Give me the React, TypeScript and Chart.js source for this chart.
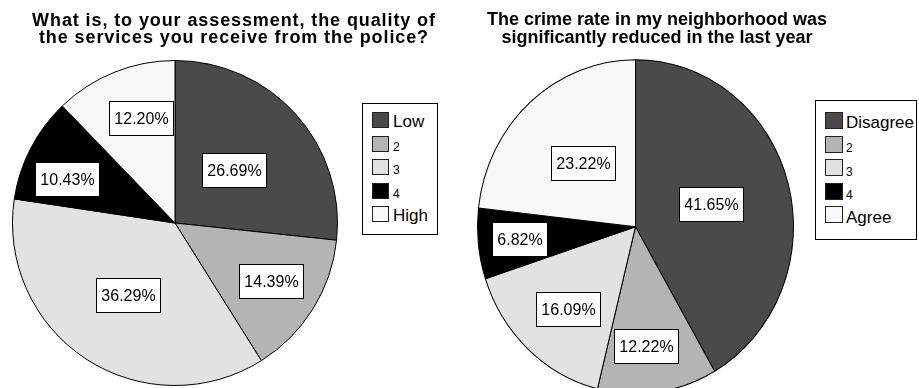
import React, { useEffect, useRef } from 'react';
import { Chart, registerables } from 'chart.js';

Chart.register(...registerables);

// ---- data ----
const leftTitle = ['What is, to your assessment, the quality of', 'the services you receive from the police?'];
const leftCategories = ['Low', '2', '3', '4', 'High'];
const leftValues = [26.69, 14.39, 36.29, 10.43, 12.2];

const rightTitle = ['The crime rate in my neighborhood was', 'significantly reduced in the last year'];
const rightCategories = ['Disagree', '2', '3', '4', 'Agree'];
const rightValues = [41.65, 12.22, 16.09, 6.82, 23.22];

// ---- styles ----
const sliceColors = ['#4a4a4a', '#b4b4b4', '#e2e2e2', '#000000', '#f8f8f8'];
const leftLabelPlacement = { radius: [0.49, 0.69, 0.53, 0.72, 0.68], angleShift: [0, -1, 0, -5, 4] };
const rightLabelPlacement = { radius: [0.5, 0.72, 0.65, 0.74, 0.51], angleShift: [-1, 3, -2, 0, 0.7] };
const FONT = '"Liberation Sans", Arial, sans-serif';

function makePiePlugin(placement: { radius: number[]; angleShift: number[] }, stretchY: number) {
  return {
    id: 'boxLabels',
    beforeDatasetsDraw(chart: any) {
      const ctx = chart.ctx as CanvasRenderingContext2D;
      const arc = chart.getDatasetMeta(0).data[0] as any;
      const cy = arc ? arc.y : 0;
      ctx.save();
      ctx.translate(0, cy);
      ctx.scale(1, stretchY);
      ctx.translate(0, -cy);
    },
    afterDatasetsDraw(chart: any) {
      const ctx = chart.ctx as CanvasRenderingContext2D;
      ctx.restore();
      const meta = chart.getDatasetMeta(0);
      const values = chart.data.datasets[0].data as number[];
      ctx.save();
      ctx.font = `16px ${FONT}`;
      ctx.textAlign = 'center';
      ctx.textBaseline = 'middle';
      meta.data.forEach((arc: any, i: number) => {
        const p = arc.getProps(['x', 'y', 'startAngle', 'endAngle', 'outerRadius'], true);
        const mid = (p.startAngle + p.endAngle) / 2 + ((placement.angleShift[i] || 0) * Math.PI) / 180;
        const r = p.outerRadius * placement.radius[i];
        const cx = p.x + Math.cos(mid) * r;
        const cy = p.y + Math.sin(mid) * r * stretchY;
        const text = values[i].toFixed(2) + '%';
        const w = Math.round(ctx.measureText(text).width + 10);
        const h = 34;
        const bx = Math.round(cx - w / 2) + 0.5;
        const by = Math.round(cy - h / 2) + 0.5;
        ctx.fillStyle = '#ffffff';
        ctx.fillRect(bx, by, w, h);
        ctx.strokeStyle = '#000000';
        ctx.lineWidth = 1;
        ctx.strokeRect(bx, by, w, h);
        ctx.fillStyle = '#000000';
        ctx.fillText(text, bx + w / 2, by + h / 2 + 1);
      });
      ctx.restore();
    },
  };
}

function PieCanvas(props: {
  labels: string[];
  values: number[];
  width: number;
  height: number;
  padding: { left: number; top: number; right: number; bottom: number };
  placement: { radius: number[]; angleShift: number[] };
  stretchY: number;
}) {
  const ref = useRef<HTMLCanvasElement>(null);
  useEffect(() => {
    if (!ref.current) return;
    const chart = new Chart(ref.current, {
      type: 'pie',
      data: {
        labels: props.labels,
        datasets: [
          {
            data: props.values,
            backgroundColor: sliceColors,
            borderColor: '#000000',
            borderWidth: 1,
            clip: false,
          },
        ],
      },
      options: {
        responsive: false,
        animation: false,
        events: [],
        layout: { padding: props.padding },
        plugins: {
          legend: { display: false },
          tooltip: { enabled: false },
          title: { display: false },
        },
      },
      plugins: [makePiePlugin(props.placement, props.stretchY)],
    } as any);
    return () => chart.destroy();
  }, []);
  return <canvas ref={ref} width={props.width} height={props.height} style={{ display: 'block' }} />;
}

function Title(props: { lines: string[]; center: number; top: number; spacing: number }) {
  return (
    <div
      style={{
        position: 'absolute',
        left: props.center - 230,
        top: props.top,
        width: 460,
        textAlign: 'center',
        fontFamily: FONT,
        fontWeight: 'bold',
        fontSize: 18,
        lineHeight: '17.5px',
        letterSpacing: props.spacing,
        color: '#000',
        whiteSpace: 'nowrap',
      }}
    >
      {props.lines.map((l, i) => (
        <div key={i}>{l}</div>
      ))}
    </div>
  );
}

function Legend(props: {
  categories: string[];
  left: number;
  top: number;
  width: number;
  height: number;
  swatchX: number;
  firstTop: number;
  step: number;
  swW: number;
  swH: number;
  textX: number;
}) {
  return (
    <div
      style={{
        position: 'absolute',
        left: props.left,
        top: props.top,
        width: props.width - 2,
        height: props.height - 2,
        border: '1px solid #000',
        background: '#fff',
      }}
    >
      {props.categories.map((c, i) => {
        const t = props.firstTop + i * props.step;
        const numeric = /^\d+$/.test(c);
        const fs = numeric ? 12 : 17;
        const baseline = t + props.swH - 0.5;
        return (
          <React.Fragment key={i}>
            <div
              style={{
                position: 'absolute',
                left: props.swatchX,
                top: t,
                width: props.swW - 2,
                height: props.swH - 2,
                border: '1px solid #222',
                background: sliceColors[i],
              }}
            />
            <div
              style={{
                position: 'absolute',
                left: props.textX,
                top: baseline - 0.8465 * fs,
                fontFamily: FONT,
                fontSize: fs,
                lineHeight: `${fs}px`,
                color: '#000',
                whiteSpace: 'nowrap',
              }}
            >
              {c}
            </div>
          </React.Fragment>
        );
      })}
    </div>
  );
}

export default function App() {
  return (
    <div
      style={{
        position: 'fixed',
        left: 0,
        top: 0,
        width: 919,
        height: 388,
        overflow: 'hidden',
        background: '#fff',
      }}
    >
      <div style={{ position: 'absolute', left: 0, top: 0 }}>
        <PieCanvas
          labels={leftCategories}
          values={leftValues}
          width={460}
          height={388}
          padding={{ left: 12, top: 60, right: 122, bottom: 2 }}
          placement={leftLabelPlacement}
          stretchY={1}
        />
      </div>
      <div style={{ position: 'absolute', left: 460, top: 0 }}>
        <PieCanvas
          labels={rightCategories}
          values={rightValues}
          width={459}
          height={388}
          padding={{ left: 17, top: 68.2, right: 125, bottom: 2.8 }}
          placement={rightLabelPlacement}
          stretchY={1.057}
        />
      </div>
      <Title lines={leftTitle} center={234} top={11.7} spacing={0.9} />
      <Title lines={rightTitle} center={657} top={11} spacing={0} />
      <Legend
        categories={leftCategories}
        left={362}
        top={103}
        width={76}
        height={132}
        swatchX={9}
        firstTop={8}
        step={23.5}
        swW={17}
        swH={16}
        textX={30}
      />
      <Legend
        categories={rightCategories}
        left={815}
        top={100}
        width={102}
        height={140}
        swatchX={9}
        firstTop={11}
        step={23.6}
        swW={18}
        swH={17}
        textX={30}
      />
    </div>
  );
}
